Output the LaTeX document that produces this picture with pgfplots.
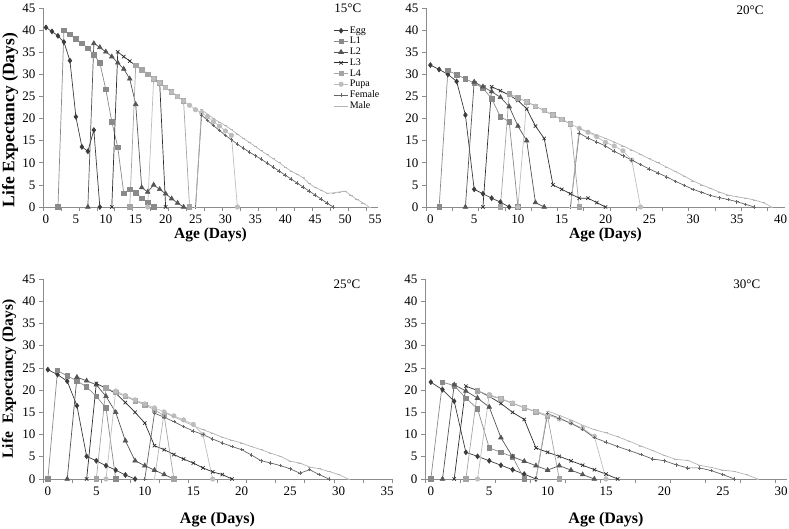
\documentclass[border=0pt]{standalone}
\usepackage{fontspec}
\setmainfont{Liberation Serif}
\usepackage{pgfplots}
\pgfplotsset{compat=1.18}
\definecolor{axgray}{HTML}{8C8C8C}
\definecolor{cegg}{HTML}{3C3C3C}
\definecolor{cl1}{HTML}{8A8A8A}
\definecolor{cl2}{HTML}{555555}
\definecolor{cl3}{HTML}{2E2E2E}
\definecolor{cl4}{HTML}{A4A4A4}
\definecolor{cpupa}{HTML}{BDBDBD}
\definecolor{cfem}{HTML}{666666}
\definecolor{cmale}{HTML}{B4B4B4}
\pgfplotsset{
  panel/.style={
    scale only axis, axis lines=left,
    axis line style={-, draw=axgray, line width=0.6pt},
    ymin=0, ymax=45, ytick={0,5,...,45},
    tick align=outside, major tick length=4pt, minor tick length=4pt,
    ytick style={draw=axgray, line width=0.6pt},
    major x tick style={draw=none},
    minor x tick style={draw=axgray, line width=0.6pt},
    tick label style={font=\fontsize{13}{13}\selectfont},
    /pgf/number format/assume math mode=true,
    clip=false,
  },
  egg/.style={color=cegg, line width=0.7pt, mark=diamond*, mark size=2.4pt, mark options={solid}},
  lone/.style={color=cl1, line width=0.7pt, mark=square*, mark size=2.2pt},
  ltwo/.style={color=cl2, line width=0.7pt, mark=triangle*, mark size=2.6pt},
  lthree/.style={color=cl3, line width=0.7pt, mark=x, mark size=2.4pt},
  lfour/.style={color=cl4, line width=0.7pt, mark=square*, mark size=2.2pt},
  pupa/.style={color=cpupa, line width=0.7pt, mark=*, mark size=2.2pt},
  fem/.style={color=cfem, line width=0.7pt, mark=+, mark size=1.8pt},
  male/.style={color=cmale, line width=0.7pt, mark=-, mark size=1.6pt},
}
\begin{document}
\begin{tikzpicture}
\useasboundingbox (0pt,0pt) rectangle (789pt,-528pt);

% ---------- 15 C ----------
\begin{axis}[panel, at={(43pt,-207pt)}, anchor=south west, width=335pt, height=199pt,
  xmin=-0.5, xmax=55.5, xtick={0,5,...,55}, minor xtick={-0.5,2.5,...,55.5},
  xlabel={Age (Days)}, ylabel={Life Expectancy (Days)},
  xlabel style={at={(axis description cs:0.5,-0.142)}, anchor=center, font=\bfseries\fontsize{15.5}{16}\selectfont},
  ylabel style={at={(axis description cs:-0.0985,0.437)}, anchor=center, font=\bfseries\fontsize{17.5}{18}\selectfont},
  legend style={at={(axis description cs:0.866,0.912)}, anchor=north west, draw=none, fill=none,
    font=\fontsize{10}{11}\selectfont, inner sep=0pt, row sep=0.6pt, nodes={inner sep=1pt}},
  legend cell align=left,
  legend image code/.code={\draw[mark repeat=2,mark phase=2] plot coordinates {(0cm,0cm) (0.26cm,0cm) (0.52cm,0cm)};},
]
\addplot[egg] coordinates {(0,40.6)(1,39.7)(2,38.7)(3,37.3)(4,33.1)(5,20.4)(6,13.6)(7,12.6)(8,17.4)(9,0)};
\addlegendentry{Egg}
\addplot[lone] coordinates {(2,0)(3,40.0)(4,39.0)(5,38.0)(6,37.0)(7,35.9)(8,34.4)(9,32.6)(10,26.6)(11,19.3)(12,13.5)(13,3.1)(14,4.0)(15,3.2)(16,2.0)(17,1.0)(18,0)};
\addlegendentry{L1}
\addplot[ltwo] coordinates {(7,0)(8,37.0)(9,36.1)(10,35.1)(11,34.0)(12,32.6)(13,31.2)(14,29.0)(15,23.2)(16,4.4)(17,3.4)(18,5.0)(19,4.0)(20,3.0)(21,1.9)(22,0.9)(23,0)};
\addlegendentry{L2}
\addplot[lthree] coordinates {(11,0)(12,35.1)(13,34.0)(14,33.0)(15,32.0)(16,31.0)(17,30.1)(18,29.1)(19,28.2)(20,0)};
\addlegendentry{L3}
\addplot[lfour] coordinates {(14,0)(15,32.0)(16,31.0)(17,30.0)(18,29.0)(19,28.1)(20,27.0)(21,26.0)(22,25.0)(23,24.0)(24,0)};
\addlegendentry{L4}
\addplot[pupa] coordinates {(17,0)(18,29.0)(19,28.1)(20,27.0)(21,26.0)(22,25.0)(23,24.0)(24,23.0)(25,22.0)(26,21.3)(27,20.4)(28,19.3)(29,18.3)(30,17.2)(31,16.2)(32,0)};
\addlegendentry{Pupa}
\addplot[fem] coordinates {(25,0)(26,20.8)(27,19.6)(28,18.4)(29,17.3)(30,16.2)(31,15.2)(32,14.2)(33,13.3)(34,12.4)(35,11.6)(36,10.8)(37,9.9)(38,9.0)(39,8.1)(40,7.2)(41,6.3)(42,5.4)(43,4.5)(44,3.6)(45,2.7)(46,1.8)(47,0.9)(48,0)};
\addlegendentry{Female}
\addplot[male] coordinates {(25,0)(26,22.0)(27,21.0)(28,20.0)(29,19.2)(30,18.4)(31,17.5)(32,16.5)(33,15.5)(34,14.6)(35,13.7)(36,12.7)(37,11.8)(38,10.9)(39,10.0)(40,9.0)(41,8.1)(42,7.4)(43,6.6)(44,5.3)(45,4.4)(46,3.8)(47,3.1)(48,3.2)(49,3.4)(50,3.6)(51,2.6)(52,1.7)(53,0.9)(54,0)};
\addlegendentry{Male}
\node[font=\fontsize{13}{13}\selectfont] at (axis description cs:0.910,0.997) {15\textdegree C};
\end{axis}

% ---------- 20 C ----------
\begin{axis}[panel, at={(426pt,-207pt)}, anchor=south west, width=359pt, height=199pt,
  xmin=-0.5, xmax=40.5, xtick={0,5,...,40}, minor xtick={-0.5,2.5,...,40.5},
  xlabel={Age (Days)},
  xlabel style={at={(axis description cs:0.5,-0.142)}, anchor=center, font=\bfseries\fontsize{15.5}{16}\selectfont},
]
\addplot[egg] coordinates {(0,32.1)(1,31.1)(2,30.0)(3,28.4)(4,20.8)(5,4.0)(6,3.0)(7,2.0)(8,1.1)(9,0)};
\addplot[lone] coordinates {(1,0)(2,30.9)(3,29.9)(4,29.0)(5,28.0)(6,26.9)(7,24.5)(8,20.4)(9,19.3)(10,0)};
\addplot[ltwo] coordinates {(4,0)(5,28.3)(6,27.2)(7,26.1)(8,24.8)(9,22.7)(10,18.3)(11,15.0)(12,1.0)(13,0)};
\addplot[lthree] coordinates {(6,0)(7,27.2)(8,26.3)(9,25.3)(10,24.1)(11,22.2)(12,18.3)(13,15.5)(14,5.0)(15,4.0)(16,3.0)(17,2.0)(18,2.0)(19,1.0)(20,0)};
\addplot[lfour] coordinates {(8,0)(9,25.6)(10,24.7)(11,23.8)(12,22.8)(13,21.8)(14,20.8)(15,19.8)(16,18.8)(17,0)};
\addplot[pupa] coordinates {(10,0)(11,23.8)(12,22.8)(13,21.8)(14,20.8)(15,19.8)(16,18.8)(17,17.8)(18,16.9)(19,15.9)(20,14.6)(21,13.8)(22,12.7)(23,10.6)(24,0)};
\addplot[fem] coordinates {(16,0)(17,16.7)(18,15.6)(19,14.7)(20,13.8)(21,12.6)(22,11.6)(23,10.6)(24,9.6)(25,8.6)(26,7.7)(27,6.8)(28,5.8)(29,4.9)(30,4.0)(31,3.3)(32,2.6)(33,2.1)(34,1.7)(35,1.2)(36,0.6)(37,0)};
\addplot[male] coordinates {(16,0)(17,17.7)(18,17.0)(19,16.3)(20,15.5)(21,14.7)(22,13.8)(23,12.9)(24,11.9)(25,10.9)(26,10.0)(27,9.0)(28,8.0)(29,7.0)(30,5.9)(31,5.0)(32,4.2)(33,3.4)(34,2.7)(35,2.3)(36,2.0)(37,1.6)(38,1.0)(39,0)};
\node[font=\fontsize{13}{13}\selectfont] at (axis description cs:0.9025,0.99) {20\textdegree C};
\end{axis}

% ---------- 25 C ----------
\begin{axis}[panel, at={(43pt,-479pt)}, anchor=south west, width=349pt, height=200pt,
  xmin=-0.5, xmax=35.5, xtick={0,5,...,35}, minor xtick={-0.5,2.5,...,35.5},
  xlabel={Age (Days)}, ylabel={Life\hspace{0.55em}Expectancy (Days)},
  xlabel style={at={(axis description cs:0.5,-0.205)}, anchor=center, font=\bfseries\fontsize{16}{16}\selectfont},
  ylabel style={at={(axis description cs:-0.097,0.5)}, anchor=center, font=\bfseries\fontsize{15.5}{16}\selectfont},
]
\addplot[egg] coordinates {(0,24.6)(1,23.5)(2,22.0)(3,16.5)(4,5.1)(5,4.1)(6,3.0)(7,2.0)(8,0.9)(9,0)};
\addplot[lone] coordinates {(0,0)(1,24.4)(2,23.2)(3,22.1)(4,20.7)(5,18.6)(6,16.0)(7,0)};
\addplot[ltwo] coordinates {(2,0)(3,22.9)(4,22.1)(5,21.2)(6,18.6)(7,15.0)(8,8.6)(9,4.1)(10,3.0)(11,2.0)(12,1.0)(13,0)};
\addplot[lthree] coordinates {(4,0)(5,21.5)(6,20.4)(7,19.3)(8,17.2)(9,15.0)(10,12.6)(11,7.5)(12,6.6)(13,5.5)(14,4.5)(15,3.6)(16,2.5)(17,1.6)(18,1.0)(19,0)};
\addplot[lfour] coordinates {(5,0)(6,20.5)(7,19.5)(8,18.6)(9,17.6)(10,16.7)(11,15.6)(12,14.2)(13,0)};
\addplot[pupa] coordinates {(6,0)(7,19.8)(8,18.8)(9,17.8)(10,16.9)(11,16.0)(12,15.1)(13,14.2)(14,13.3)(15,12.3)(16,10.0)(17,0)};
\addplot[fem] coordinates {(10,0)(11,14.8)(12,13.9)(13,12.9)(14,11.8)(15,10.8)(16,10.0)(17,9.0)(18,8.1)(19,7.3)(20,6.6)(21,5.4)(22,4.1)(23,3.6)(24,3.0)(25,2.3)(26,1.3)(27,2.1)(28,1.0)(29,0)};
\addplot[male] coordinates {(11,0)(12,15.0)(13,14.0)(14,13.0)(15,12.0)(16,11.1)(17,10.3)(18,9.4)(19,8.7)(20,8.1)(21,7.3)(22,6.6)(23,5.8)(24,5.1)(25,4.0)(26,3.6)(27,2.7)(28,2.3)(29,1.7)(30,1.0)(31,0)};
\node[font=\fontsize{13}{13}\selectfont] at (axis description cs:0.871,0.975) {25\textdegree C};
\end{axis}

% ---------- 30 C ----------
\begin{axis}[panel, at={(425pt,-479pt)}, anchor=south west, width=362pt, height=200pt,
  xmin=-0.5, xmax=30.5, xtick={0,5,...,30}, minor xtick={-0.5,2.5,...,30.5},
  xlabel={Age (Days)},
  xlabel style={at={(axis description cs:0.5,-0.205)}, anchor=center, font=\bfseries\fontsize{16}{16}\selectfont},
]
\addplot[egg] coordinates {(0,21.8)(1,20.1)(2,17.5)(3,6.0)(4,5.1)(5,4.1)(6,3.1)(7,2.1)(8,1.1)(9,0)};
\addplot[lone] coordinates {(0,0)(1,21.8)(2,21.0)(3,18.2)(4,15.8)(5,7.0)(6,6.0)(7,5.0)(8,0)};
\addplot[ltwo] coordinates {(1,0)(2,21.2)(3,19.8)(4,18.2)(5,16.2)(6,9.3)(7,5.0)(8,4.0)(9,3.0)(10,2.0)(11,3.0)(12,2.0)(13,1.0)(14,0)};
\addplot[lthree] coordinates {(2,0)(3,20.9)(4,19.9)(5,18.6)(6,17.0)(7,15.0)(8,13.4)(9,7.0)(10,6.0)(11,5.1)(12,4.1)(13,3.1)(14,2.1)(15,1.1)(16,0)};
\addplot[lfour] coordinates {(3,0)(4,19.8)(5,18.8)(6,18.0)(7,17.0)(8,16.0)(9,15.1)(10,14.1)(11,0)};
\addplot[pupa] coordinates {(4,0)(5,19.0)(6,18.1)(7,17.1)(8,16.1)(9,15.2)(10,14.4)(11,13.5)(12,12.6)(13,11.4)(14,9.6)(15,0)};
\addplot[fem] coordinates {(9,0)(10,14.7)(11,13.7)(12,12.5)(13,11.2)(14,9.3)(15,8.3)(16,7.3)(17,6.4)(18,5.5)(19,4.5)(20,4.1)(21,3.2)(22,2.5)(23,2.5)(24,1.9)(25,1.0)(26,0)};
\addplot[male] coordinates {(9,0)(10,15.3)(11,14.3)(12,13.3)(13,12.1)(14,11.1)(15,10.4)(16,9.5)(17,8.5)(18,7.4)(19,6.4)(20,5.3)(21,4.4)(22,4.2)(23,3.1)(24,2.6)(25,2.0)(26,1.7)(27,1.0)(28,0)};
\node[font=\fontsize{13}{13}\selectfont] at (axis description cs:0.889,0.975) {30\textdegree C};
\end{axis}
\end{tikzpicture}
\end{document}
